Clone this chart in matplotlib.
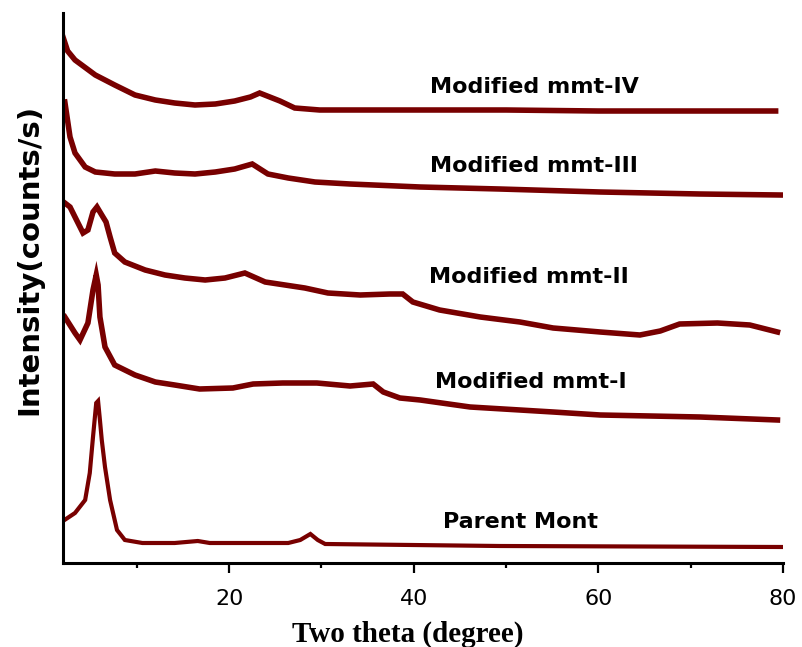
import numpy as np
import matplotlib
matplotlib.use('Agg')
import matplotlib.pyplot as plt

# Two theta (degree) and relative height (arb. units, offset for stacking)
x_iv = [2.0, 2.5, 3.3, 5.5, 7.6, 9.8, 12.0, 14.1, 16.3, 18.5, 20.6, 22.3, 23.3, 24.4, 25.5, 27.1,
        29.8, 40.0, 50.0, 60.0, 70.0, 79.2]
y_iv = [526, 512, 503, 488, 478, 468, 463, 460, 458, 459, 462, 466, 470, 466, 462, 455,
        453, 453, 453, 452, 452, 452]

x_iii = [2.2, 2.76, 3.3, 4.4, 5.5, 7.6, 9.8, 12.0, 14.1, 16.3, 18.5, 20.6, 22.5, 24.2,
         26.4, 29.3, 33.1, 40.7, 49.3, 60.2, 71.0, 79.7]
y_iii = [461, 426, 410, 396, 391, 389, 389, 392, 390, 389, 391, 394, 399, 389,
         385, 381, 379, 376, 374, 371, 369, 368]

x_ii = [2.2, 2.76, 3.3, 4.17, 4.7, 5.25, 5.68, 6.2, 6.66, 7.1, 7.6, 8.7, 10.9, 13.05,
        15.2, 17.4, 19.55, 21.7, 23.9, 26.05, 28.2, 30.7, 34.2, 37.4, 38.8, 39.9, 42.8,
        47.2, 51.5, 55.1, 60.2, 64.5, 66.7, 68.8, 72.9, 76.4, 79.4]
y_ii = [360, 356, 346, 330, 333, 351, 356, 348, 341, 326, 310, 301, 293, 288,
        285, 283, 285, 290, 281, 278, 275, 270, 268, 269, 269, 261, 253,
        246, 241, 235, 231, 228, 232, 239, 240, 238, 231]

x_i = [2.2, 3.3, 3.84, 4.7, 5.25, 5.6, 5.8, 6.0, 6.55, 7.6, 9.8, 12.0, 14.1, 16.8,
       20.4, 22.6, 25.8, 29.5, 33.1, 35.6, 36.7, 38.5, 40.7, 46.1, 51.5, 55.1, 60.2,
       71.0, 79.4]
y_i = [246, 230, 223, 240, 273, 288, 278, 246, 216, 198, 188, 181, 178, 174,
       175, 179, 180, 180, 177, 179, 171, 165, 163, 156, 153, 151, 148,
       146, 143]

x_p = [2.0, 3.3, 4.4, 4.9, 5.25, 5.6, 5.8, 6.0, 6.2, 6.55, 7.1, 7.85, 8.7, 10.6, 14.1,
       16.6, 17.9, 26.4, 27.7, 28.8, 29.6, 30.4, 49.3, 80.0]
y_p = [42, 50, 63, 90, 126, 160, 162, 143, 123, 96, 63, 33, 23, 20, 20,
       22, 20, 20, 23, 29, 23, 19, 17, 16]

labels = ['Modified mmt-IV', 'Modified mmt-III', 'Modified mmt-II', 'Modified mmt-I', 'Parent Mont']
label_x = [41.8, 41.8, 41.65, 42.3, 43.2]
label_y = [476, 397, 286, 181, 41]

col = '#780000'

fig = plt.figure(figsize=(8.02, 6.47), dpi=100)
ax = fig.add_axes([63 / 802, 1 - 563 / 647, (783 - 63) / 802, (563 - 13) / 647])

for xs, ys, lw in [(x_iv, y_iv, 4), (x_iii, y_iii, 4), (x_ii, y_ii, 4), (x_i, y_i, 4), (x_p, y_p, 3)]:
    ax.plot(xs, ys, color=col, lw=lw, solid_joinstyle='miter')

for t, lx, ly in zip(labels, label_x, label_y):
    ax.text(lx, ly, t, fontsize=16, fontweight='bold', family='DejaVu Sans', va='center', ha='left')

ax.set_xlim(2, 80)
ax.set_ylim(0, 550)
ax.set_xticks([20, 40, 60, 80])
ax.set_xticks([10, 30, 50, 70], minor=True)
ax.set_yticks([])
ax.tick_params(axis='x', which='major', length=7, width=1.6, labelsize=16, pad=12, direction='out')
ax.tick_params(axis='x', which='minor', length=3.5, width=1.6, direction='out')
for s in ['top', 'right']:
    ax.spines[s].set_visible(False)
for s in ['left', 'bottom']:
    ax.spines[s].set_linewidth(2.2)

fig.text(0.037, 1 - 259 / 647, 'Intensity(counts/s)', rotation=90, fontsize=21, fontweight='bold',
         family='DejaVu Sans', ha='center', va='center')
fig.text(408 / 802, 1 - 634 / 647, 'Two theta (degree)', fontsize=21, fontweight='bold',
         family='Liberation Serif', ha='center', va='center')

fig.savefig('out.png', dpi=100)
